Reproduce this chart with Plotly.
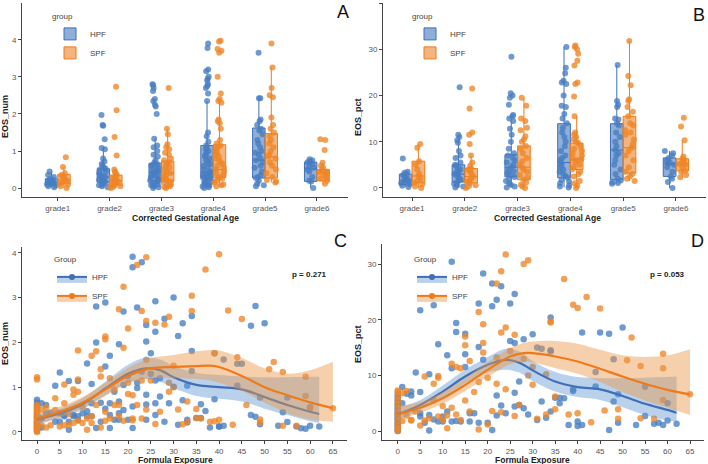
import plotly.graph_objects as go

# ---------------- data ----------------
grades = ["grade1", "grade2", "grade3", "grade4", "grade5", "grade6"]

# Panel A: EOS_num box statistics
A_HPF_q1 = [0.09, 0.16, 0.20, 0.28, 0.27, 0.18]
A_HPF_med = [0.15, 0.30, 0.42, 0.43, 0.76, 0.52]
A_HPF_q3 = [0.25, 0.52, 0.67, 1.15, 1.62, 0.70]
A_HPF_lo = [0.02, 0.02, 0.00, 0.00, 0.05, 0.00]
A_HPF_hi = [0.45, 1.08, 1.33, 2.35, 2.42, 0.78]
A_SPF_q1 = [0.12, 0.08, 0.18, 0.28, 0.27, 0.20]
A_SPF_med = [0.22, 0.20, 0.40, 0.50, 0.84, 0.42]
A_SPF_q3 = [0.37, 0.35, 0.73, 1.17, 1.47, 0.50]
A_SPF_lo = [0.00, 0.00, 0.00, 0.05, 0.15, 0.12]
A_SPF_hi = [0.57, 0.50, 1.60, 2.40, 3.25, 0.68]

A_HPF_pts = [
    [0.02, 0.05, 0.08, 0.1, 0.12, 0.13, 0.15, 0.16, 0.18, 0.2, 0.22, 0.25, 0.3, 0.35, 0.45],
    [0.02, 0.05, 0.08, 0.1, 0.12, 0.15, 0.18, 0.2, 0.22, 0.25, 0.28, 0.3, 0.32, 0.35, 0.4, 0.45,
     0.5, 0.52, 0.55, 0.6, 0.65, 0.72, 0.8, 1.05, 1.08, 1.32, 1.7, 1.68, 1.97],
    [0.0, 0.02, 0.05, 0.08, 0.1, 0.12, 0.15, 0.18, 0.2, 0.22, 0.25, 0.28, 0.3, 0.33, 0.36, 0.4,
     0.42, 0.45, 0.48, 0.5, 0.55, 0.6, 0.62, 0.65, 0.68, 0.75, 0.85, 0.9, 1.0, 1.1, 1.15, 1.33,
     2.0, 2.2, 2.25, 2.35, 2.4, 2.62, 2.7, 2.78, 2.8],
    [0.0, 0.02, 0.04, 0.06, 0.08, 0.1, 0.12, 0.15, 0.18, 0.2, 0.22, 0.25, 0.28, 0.3, 0.32, 0.35,
     0.38, 0.4, 0.42, 0.45, 0.5, 0.55, 0.6, 0.65, 0.7, 0.75, 0.8, 0.85, 0.9, 0.95, 1.0, 1.05,
     1.1, 1.15, 1.25, 1.4, 1.5, 2.35, 2.55, 2.7, 2.75, 2.8, 2.9, 2.95, 3.0, 3.15, 3.2, 3.78, 3.9],
    [0.05, 0.08, 0.12, 0.2, 0.27, 0.3, 0.35, 0.45, 0.55, 0.6, 0.7, 0.75, 0.8, 0.9, 0.95, 1.0,
     1.1, 1.2, 1.3, 1.45, 1.55, 1.6, 1.7, 1.8, 1.85, 2.42, 2.42, 3.65],
    [0.0, 0.18, 0.2, 0.3, 0.45, 0.5, 0.55, 0.6, 0.65, 0.7, 0.72, 0.75, 0.78],
]
A_SPF_pts = [
    [0.0, 0.05, 0.1, 0.12, 0.15, 0.2, 0.22, 0.25, 0.3, 0.35, 0.4, 0.57, 0.83],
    [0.0, 0.02, 0.05, 0.08, 0.1, 0.12, 0.15, 0.18, 0.2, 0.22, 0.25, 0.28, 0.3, 0.35, 0.4, 0.45,
     0.5, 0.88, 1.38, 2.1, 2.73],
    [0.0, 0.02, 0.05, 0.08, 0.1, 0.15, 0.18, 0.2, 0.25, 0.3, 0.35, 0.4, 0.45, 0.5, 0.55, 0.6,
     0.65, 0.7, 0.75, 0.8, 0.9, 0.95, 1.05, 1.1, 1.18, 1.45, 1.6, 2.7],
    [0.05, 0.08, 0.1, 0.15, 0.2, 0.25, 0.28, 0.3, 0.35, 0.4, 0.45, 0.5, 0.55, 0.6, 0.65, 0.7,
     0.75, 0.8, 0.85, 0.9, 0.95, 1.0, 1.05, 1.1, 1.15, 1.2, 1.3, 1.6, 1.75, 1.8, 1.85, 2.3,
     2.35, 2.4, 2.55, 3.0, 3.65, 3.7, 3.75, 3.95, 3.97],
    [0.15, 0.18, 0.22, 0.3, 0.4, 0.5, 0.6, 0.7, 0.8, 0.85, 0.9, 1.0, 1.1, 1.2, 1.3, 1.4, 1.5,
     1.6, 1.7, 1.9, 2.45, 2.5, 2.7, 3.25, 3.9],
    [0.12, 0.2, 0.25, 0.3, 0.35, 0.4, 0.42, 0.45, 0.5, 0.55, 0.6, 0.68, 1.03, 1.3, 1.32],
]

# Panel B: EOS_pct box statistics
B_HPF_q1 = [0.8, 1.3, 2.4, 2.2, 1.8, 2.5]
B_HPF_med = [1.7, 3.0, 4.5, 5.5, 8.2, 5.2]
B_HPF_q3 = [3.0, 5.0, 7.2, 13.9, 13.9, 6.5]
B_HPF_lo = [0.2, 0.1, 0.1, 0.1, 0.9, 0.0]
B_HPF_hi = [3.5, 10.3, 14.5, 30.5, 26.6, 8.0]
B_SPF_q1 = [1.1, 1.1, 1.8, 4.0, 3.2, 3.7]
B_SPF_med = [2.6, 2.5, 4.5, 6.2, 8.7, 5.2]
B_SPF_q3 = [5.8, 4.2, 9.1, 9.7, 15.5, 6.3]
B_SPF_lo = [0.0, 0.0, 0.0, 0.0, 1.5, 2.3]
B_SPF_hi = [9.5, 7.0, 19.5, 15.5, 31.8, 10.3]

B_HPF_pts = [
    [0.2, 0.5, 0.8, 1.0, 1.2, 1.5, 1.7, 2.0, 2.3, 2.8, 3.0, 3.3, 3.5, 6.4],
    [0.1, 0.3, 0.6, 0.9, 1.2, 1.5, 1.8, 2.2, 2.6, 3.0, 3.3, 3.6, 4.0, 4.4, 4.8, 5.0, 5.5, 6.5,
     7.0, 8.0, 9.8, 10.3, 11.0, 11.5, 21.8],
    [0.1, 0.3, 0.7, 1.0, 1.5, 2.0, 2.4, 2.8, 3.2, 3.6, 4.0, 4.5, 5.0, 5.5, 6.0, 6.5, 7.0, 7.5,
     8.5, 10.0, 11.5, 12.8, 14.5, 15.0, 15.5, 15.8, 18.0, 19.5, 20.0, 20.5, 28.4],
    [0.1, 0.3, 0.6, 1.0, 1.4, 1.8, 2.2, 2.6, 3.0, 3.5, 4.0, 4.5, 5.0, 5.5, 6.0, 6.5, 7.0, 8.0,
     9.0, 10.0, 11.0, 12.0, 13.0, 14.0, 15.0, 16.0, 17.5, 17.8, 20.0, 22.5, 22.8, 23.2, 24.8,
     26.0, 30.5],
    [0.9, 1.1, 1.3, 1.6, 2.0, 3.0, 4.0, 5.0, 6.0, 7.0, 7.5, 8.2, 9.0, 10.0, 11.0, 12.0, 13.5,
     14.0, 14.8, 15.0, 17.5, 18.0, 18.8, 26.6],
    [0.0, 1.3, 2.0, 2.5, 3.5, 4.5, 5.0, 5.2, 5.5, 6.0, 6.5, 7.0, 7.5, 8.0],
]
B_SPF_pts = [
    [0.0, 0.3, 0.8, 1.1, 1.5, 2.0, 2.6, 3.0, 4.0, 5.0, 5.8, 8.7, 9.5],
    [0.0, 0.3, 0.6, 1.0, 1.3, 1.6, 2.0, 2.5, 3.0, 3.5, 4.0, 4.2, 4.8, 5.5, 7.0, 9.5, 11.5,
     12.0, 17.2, 21.5],
    [0.0, 0.3, 0.7, 1.2, 1.8, 2.2, 2.8, 3.5, 4.0, 4.5, 5.0, 5.8, 6.5, 7.5, 8.5, 9.1, 10.0,
     10.5, 11.2, 12.5, 13.0, 14.5, 15.0, 17.8, 19.5],
    [0.0, 0.5, 1.0, 1.5, 2.5, 3.0, 3.5, 4.0, 4.5, 5.0, 5.5, 6.0, 6.2, 6.5, 7.0, 7.5, 8.0, 8.5,
     9.0, 9.7, 10.0, 10.5, 11.0, 11.5, 12.0, 15.5, 19.8, 22.5, 22.8, 26.5, 27.5, 29.0, 30.0,
     30.5, 30.8],
    [1.5, 2.0, 2.5, 3.0, 3.5, 4.5, 6.0, 7.0, 8.0, 8.7, 9.5, 10.5, 11.5, 12.0, 12.5, 13.5, 14.0,
     15.5, 16.5, 17.5, 18.8, 19.2, 22.2, 24.2, 31.8],
    [2.3, 2.8, 3.5, 3.7, 4.5, 5.0, 5.2, 5.5, 6.0, 6.3, 6.8, 10.3, 13.3, 15.2],
]

# Panel C: EOS_num vs formula exposure
C_HPF_x = [0, 0, 0, 0, 0, 0, 0, 0, 0, 0, 0, 0, 0, 0, 0, 0, 0, 0, 0, 0, 0, 0,
           1, 1, 1, 2, 2, 3, 4, 4, 5, 5, 5, 6, 6, 7, 7, 7, 8, 8, 9, 9, 9, 10, 11, 11, 11,
           12, 12, 12, 13, 13, 13, 14, 14, 15, 15, 15, 16, 16, 16, 16, 17, 17, 18, 18, 18,
           18, 19, 19, 19, 20, 20, 21, 21, 21, 21, 22, 22, 22, 23, 23, 24, 24, 24, 24, 24,
           25, 25, 26, 26, 26, 26, 26, 27, 27, 28, 28, 29, 30, 30, 31, 31, 32, 32, 33, 33,
           33, 34, 34, 34, 35, 36, 36, 37, 38, 39, 39, 40, 40, 41, 41, 44, 44, 45, 47, 47,
           48, 48, 49, 49, 50, 53, 54, 55, 55, 57, 58, 59, 60, 60, 62]
C_HPF_y = [0.02, 0.05, 0.08, 0.1, 0.12, 0.14, 0.17, 0.19, 0.22, 0.24, 0.27, 0.3, 0.32, 0.35,
           0.38, 0.41, 0.45, 0.5, 0.55, 0.6, 0.66, 0.72,
           0.64, 0.1, 0.3, 0.42, 0.6, 0.43, 0.23, 1.03, 1.33, 0.42, 0.23, 0.38, 0.35, 0.05,
           0.23, 1.14, 0.38, 0.35, 0.27, 1.14, 0.35, 0.42, 0.35, 0.46, 1.53, 0.64, 0.35, 1.07,
           0.09, 2.8, 2.0, 0.65, 0.23, 0.52, 2.89, 1.46, 0.09, 0.38, 1.7, 0.64, 0.27, 0.9,
           0.42, 0.68, 1.96, 0.27, 2.69, 0.49, 1.05, 0.27, 1.25, 0.09, 3.91, 3.68, 0.57, 0.98,
           2.78, 1.1, 3.79, 1.35, 0.83, 0.61, 0.27, 2.39, 2.02, 1.76, 1.3, 0.64, 0.38, 2.92,
           2.24, 1.15, 0.79, 1.2, 0.23, 2.53, 0.64, 1.01, 3.0, 0.16, 2.14, 0.71, 2.43, 0.27,
           1.03, 0.21, 2.59, 1.81, 1.36, 0.31, 0.62, 0.31, 0.47, 0.1, 1.76, 0.73, 0.12, 0.12,
           1.62, 0.14, 1.52, 1.03, 1.52, 2.37, 0.38, 2.81, 0.34, 0.77, 0.17, 2.43, 0.14, 0.44,
           0.77, 0.22, 0.12, 0.08, 0.07, 0.55, 0.14, 0.12]
C_SPF_x = [0, 0, 0, 0, 0, 0, 0, 0, 0, 0, 0, 0, 0, 0, 0, 0,
           1, 1, 2, 2, 3, 4, 4, 5, 6, 6, 6, 7, 7, 8, 8, 8, 9, 9, 9, 9, 10, 10, 11, 11, 12,
           12, 12, 13, 13, 14, 14, 14, 15, 15, 15, 15, 16, 16, 17, 17, 18, 18, 18, 19, 19,
           19, 20, 20, 20, 21, 21, 21, 22, 22, 23, 23, 23, 24, 24, 24, 24, 25, 26, 26, 27,
           28, 29, 29, 29, 30, 30, 31, 32, 33, 33, 34, 34, 35, 35, 36, 37, 38, 39, 39, 40,
           40, 42, 43, 44, 45, 46, 49, 49, 51, 52, 54, 54, 57, 59, 59, 60, 65]
C_SPF_y = [0.0, 0.03, 0.06, 0.1, 0.15, 0.2, 0.25, 0.3, 0.35, 0.4, 0.45, 0.5, 0.55, 0.6, 1.17,
           1.22,
           0.5, 0.15, 0.1, 0.55, 0.15, 0.49, 0.75, 0.12, 1.06, 0.64, 0.15, 0.15, 0.4, 0.95,
           0.2, 0.83, 1.82, 1.17, 0.9, 0.25, 0.2, 0.55, 0.05, 0.3, 1.7, 0.2, 0.35, 1.8, 0.6,
           1.4, 1.24, 0.1, 2.13, 2.07, 0.45, 0.25, 1.2, 0.3, 0.6, 0.95, 2.74, 0.6, 0.35, 3.24,
           1.88, 0.25, 2.31, 1.1, 0.85, 0.82, 0.26, 0.3, 3.73, 0.6, 2.7, 0.3, 1.15, 3.9, 2.48,
           1.61, 0.5, 1.15, 2.44, 0.18, 0.45, 2.4, 2.57, 0.9, 1.1, 1.48, 1.0, 0.5, 0.17, 0.68,
           0.23, 3.04, 2.7, 0.51, 0.31, 0.3, 3.63, 0.23, 1.76, 0.24, 3.97, 0.27, 2.71, 0.16,
           1.67, 2.52, 0.6, 0.28, 0.21, 1.4, 1.56, 1.34, 0.14, 0.14, 1.23, 0.8, 0.54, 0.53]

# Panel D: EOS_pct vs formula exposure
D_HPF_x = [0, 0, 0, 0, 0, 0, 0, 0, 0, 0, 0, 0, 0, 0, 0, 0, 0, 0,
           1, 1, 2, 3, 3, 4, 5, 5, 5, 5, 6, 7, 7, 7, 8, 8, 9, 9, 10, 10, 11, 11, 12, 12, 12,
           13, 13, 13, 14, 15, 15, 15, 16, 16, 17, 18, 18, 18, 19, 19, 20, 21, 21, 21, 22,
           22, 22, 23, 23, 25, 24, 25, 26, 26, 26, 26, 27, 27, 28, 28, 30, 29, 31, 32, 31,
           32, 33, 34, 34, 34, 34, 35, 36, 36, 37, 38, 39, 39, 40, 40, 41, 41, 44, 44, 45,
           47, 47, 48, 48, 49, 49, 50, 53, 55, 55, 57, 58, 59, 60, 60, 62]
D_HPF_y = [0.0, 0.3, 0.6, 1.0, 1.3, 1.6, 2.0, 2.3, 2.7, 3.0, 3.4, 3.8, 4.2, 4.6, 5.0, 5.5,
           6.0, 6.6,
           7.9, 5.0, 6.7, 7.1, 6.4, 10.5, 21.7, 3.2, 2.6, 7.0, 1.5, 2.9, 10.2, 0.1, 22.6, 2.1,
           15.6, 1.7, 2.6, 1.7, 13.6, 3.5, 30.4, 11.3, 1.7, 19.4, 17.8, 1.8, 1.7, 17.5, 13.8,
           11.5, 1.7, 3.2, 3.2, 22.9, 15.1, 1.5, 28.3, 12.8, 1.5, 26.5, 22.4, 0.2, 23.6, 2.8,
           6.4, 26.0, 4.6, 22.9, 3.2, 16.2, 24.6, 15.8, 6.9, 4.4, 8.9, 4.7, 16.5, 4.1, 17.4,
           3.0, 2.0, 5.3, 15.0, 14.8, 2.4, 20.4, 14.5, 14.3, 3.5, 6.0, 6.0, 5.0, 5.9, 1.1, 7.5,
           7.2, 1.7, 0.9, 17.7, 1.1, 10.6, 8.0, 17.7, 17.5, 0.2, 12.9, 5.3, 6.6, 1.5, 18.6,
           1.1, 7.95, 2.7, 1.3, 1.5, 1.1, 5.0, 1.9, 1.3]
D_SPF_x = [0, 0, 0, 0, 0, 0, 0, 0, 0, 0, 0, 0,
           1, 1, 2, 2, 3, 3, 4, 5, 6, 6, 7, 8, 8, 9, 9, 9, 10, 10, 11, 11, 12, 12, 13, 13,
           14, 14, 15, 15, 15, 16, 16, 17, 18, 18, 18, 19, 19, 19, 20, 20, 21, 22, 22, 22,
           23, 23, 23, 24, 24, 24, 25, 26, 26, 27, 28, 28, 29, 29, 30, 30, 31, 33, 33, 34,
           34, 35, 35, 37, 38, 39, 40, 40, 42, 43, 45, 46, 49, 49, 51, 52, 54, 54, 57, 59,
           59, 59, 65]
D_SPF_y = [0.0, 0.5, 1.0, 1.8, 2.5, 3.2, 4.0, 4.8, 5.5, 6.2, 7.0, 7.3,
           6.8, 1.8, 7.2, 2.8, 1.9, 2.0, 3.5, 1.0, 9.8, 1.9, 2.3, 8.5, 5.5, 9.9, 9.6, 2.6,
           2.0, 4.5, 0.5, 2.8, 12.1, 4.2, 11.5, 3.0, 11.3, 2.0, 15.4, 17.0, 5.5, 12.6, 3.5,
           7.0, 21.4, 8.8, 0.3, 19.2, 14.1, 15.8, 1.2, 9.6, 3.6, 26.5, 8.5, 13.2, 28.7, 17.7,
           3.4, 31.7, 18.6, 7.5, 14.4, 17.3, 2.7, 4.7, 30.0, 13.0, 30.7, 10.0, 8.3, 11.5, 2.2,
           10.2, 3.0, 19.7, 19.5, 6.2, 3.9, 27.3, 3.0, 22.7, 22.1, 3.2, 24.1, 1.6, 22.0, 3.7,
           3.9, 2.2, 12.7, 16.8, 11.7, 2.3, 2.2, 13.9, 11.3, 5.6, 6.6]

# Smoothed fits with confidence bands
C_HPF_gx = [0, 5, 10, 15, 20, 24, 27, 30, 35, 40, 45, 50, 55, 60, 62]
C_HPF_fit = [0.28, 0.41, 0.62, 0.97, 1.30, 1.42, 1.38, 1.22, 1.05, 1.00, 0.95, 0.78, 0.60, 0.45, 0.40]
C_HPF_lo = [0.18, 0.30, 0.50, 0.82, 1.10, 1.18, 1.12, 0.98, 0.80, 0.74, 0.68, 0.52, 0.38, 0.24, 0.20]
C_HPF_hi = [0.38, 0.52, 0.75, 1.12, 1.50, 1.66, 1.62, 1.48, 1.32, 1.27, 1.24, 1.22, 1.22, 1.23, 1.23]
C_SPF_gx = [0, 5, 10, 15, 20, 25, 30, 35, 38, 40, 45, 50, 55, 60, 65]
C_SPF_fit = [0.30, 0.45, 0.65, 0.95, 1.25, 1.42, 1.45, 1.47, 1.48, 1.45, 1.25, 1.00, 0.82, 0.66, 0.53]
C_SPF_lo = [0.18, 0.33, 0.53, 0.80, 1.08, 1.20, 1.20, 1.18, 1.15, 1.10, 0.92, 0.65, 0.42, 0.28, 0.23]
C_SPF_hi = [0.45, 0.57, 0.78, 1.10, 1.43, 1.65, 1.72, 1.80, 1.83, 1.82, 1.65, 1.42, 1.30, 1.38, 1.57]

D_HPF_gx = [0, 5, 10, 15, 20, 24, 27, 30, 35, 40, 45, 50, 55, 60, 62]
D_HPF_fit = [3.0, 4.7, 7.1, 9.8, 11.9, 12.8, 12.3, 10.9, 8.9, 7.9, 7.5, 6.3, 4.9, 3.8, 3.3]
D_HPF_lo = [2.0, 3.8, 6.0, 8.6, 10.5, 11.0, 10.5, 9.0, 7.1, 6.1, 5.6, 4.3, 2.9, 1.9, 1.7]
D_HPF_hi = [4.2, 5.6, 8.2, 11.0, 13.3, 14.8, 14.3, 12.6, 10.6, 9.7, 9.5, 9.5, 9.6, 9.7, 9.8]
D_SPF_gx = [0, 5, 10, 15, 20, 25, 28, 30, 35, 40, 45, 50, 55, 60, 65]
D_SPF_fit = [3.0, 4.2, 5.9, 8.3, 11.0, 13.4, 14.0, 14.0, 13.4, 12.5, 11.2, 9.8, 8.5, 7.4, 6.6]
D_SPF_lo = [2.0, 3.3, 4.9, 7.2, 9.7, 12.0, 12.4, 12.3, 11.3, 10.3, 8.8, 7.0, 5.5, 4.2, 2.9]
D_SPF_hi = [4.6, 5.2, 7.0, 9.5, 12.4, 14.9, 15.8, 16.1, 16.2, 15.7, 14.6, 13.6, 13.3, 13.6, 14.7]

p_values = ["p = 0.271", "p = 0.053"]

# ---------------- styles ----------------
FONT = "Liberation Sans, Arial, sans-serif"
BLUE_LINE = "#3F6FB6"
ORANGE_LINE = "#EE7B1B"
BLUE_PT = "rgba(70,125,195,0.78)"
ORANGE_PT = "rgba(238,133,38,0.78)"
BLUE_BOX = "rgba(74,124,192,0.62)"
ORANGE_BOX = "rgba(236,135,45,0.62)"
BLUE_BAND = "rgba(90,145,210,0.42)"
ORANGE_BAND = "rgba(236,150,70,0.45)"

fig = go.Figure()


def add_box_panel(xa, ya, legend, stats_h, stats_s, pts_h, pts_s):
    for name, st, pts, line_c, fill_c, pt_c in [
        ("HPF", stats_h, pts_h, BLUE_LINE, BLUE_BOX, BLUE_PT),
        ("SPF", stats_s, pts_s, ORANGE_LINE, ORANGE_BOX, ORANGE_PT),
    ]:
        q1, med, q3, lo, hi = st
        fig.add_trace(go.Box(
            x=grades, q1=q1, median=med, q3=q3, lowerfence=lo, upperfence=hi,
            name=name, offsetgroup=name, boxpoints=False, whiskerwidth=0,
            fillcolor=fill_c, line=dict(color=line_c, width=1),
            xaxis=xa, yaxis=ya, legend=legend, showlegend=True,
        ))
        xs = [g for g, vals in zip(grades, pts) for _ in vals]
        ys = [v for vals in pts for v in vals]
        fig.add_trace(go.Box(
            x=xs, y=ys, name=name, offsetgroup=name, boxpoints="all", jitter=0.85,
            pointpos=0, fillcolor="rgba(0,0,0,0)", line=dict(color="rgba(0,0,0,0)", width=0),
            marker=dict(color=pt_c, size=6), xaxis=xa, yaxis=ya, showlegend=False,
            hoveron="points",
        ))


add_box_panel("x", "y", "legend",
              (A_HPF_q1, A_HPF_med, A_HPF_q3, A_HPF_lo, A_HPF_hi),
              (A_SPF_q1, A_SPF_med, A_SPF_q3, A_SPF_lo, A_SPF_hi),
              A_HPF_pts, A_SPF_pts)
add_box_panel("x2", "y2", "legend2",
              (B_HPF_q1, B_HPF_med, B_HPF_q3, B_HPF_lo, B_HPF_hi),
              (B_SPF_q1, B_SPF_med, B_SPF_q3, B_SPF_lo, B_SPF_hi),
              B_HPF_pts, B_SPF_pts)


def add_smooth_panel(xa, ya, legend, hx, hy, sx, sy, hfit, sfit):
    fig.add_trace(go.Scatter(x=hx, y=hy, mode="markers", marker=dict(color=BLUE_PT, size=6.5),
                             xaxis=xa, yaxis=ya, showlegend=False, name="HPF"))
    fig.add_trace(go.Scatter(x=sx, y=sy, mode="markers", marker=dict(color=ORANGE_PT, size=6.5),
                             xaxis=xa, yaxis=ya, showlegend=False, name="SPF"))
    for name, (gx, fit, lo, hi), line_c, band_c in [
        ("HPF", hfit, BLUE_LINE, BLUE_BAND),
        ("SPF", sfit, ORANGE_LINE, ORANGE_BAND),
    ]:
        fig.add_trace(go.Scatter(x=gx, y=hi, mode="lines", line=dict(width=0, shape="spline"),
                                 xaxis=xa, yaxis=ya, showlegend=False, hoverinfo="skip"))
        fig.add_trace(go.Scatter(x=gx, y=lo, mode="lines", line=dict(width=0, shape="spline"),
                                 fill="tonexty", fillcolor=band_c,
                                 xaxis=xa, yaxis=ya, showlegend=False, hoverinfo="skip"))
        fig.add_trace(go.Scatter(x=gx, y=fit, mode="lines",
                                 line=dict(color=line_c, width=2.2, shape="spline"),
                                 xaxis=xa, yaxis=ya, showlegend=False, name=name))
    for name, line_c, band_c in [("HPF", BLUE_LINE, BLUE_BAND), ("SPF", ORANGE_LINE, ORANGE_BAND)]:
        fig.add_trace(go.Scatter(x=[None], y=[None], mode="lines+markers", name=name,
                                 fill="toself", fillcolor=band_c,
                                 line=dict(color=line_c, width=2), marker=dict(color=line_c, size=6),
                                 xaxis=xa, yaxis=ya, legend=legend, showlegend=True))


add_smooth_panel("x3", "y3", "legend3", C_HPF_x, C_HPF_y, C_SPF_x, C_SPF_y,
                 (C_HPF_gx, C_HPF_fit, C_HPF_lo, C_HPF_hi),
                 (C_SPF_gx, C_SPF_fit, C_SPF_lo, C_SPF_hi))
add_smooth_panel("x4", "y4", "legend4", D_HPF_x, D_HPF_y, D_SPF_x, D_SPF_y,
                 (D_HPF_gx, D_HPF_fit, D_HPF_lo, D_HPF_hi),
                 (D_SPF_gx, D_SPF_fit, D_SPF_lo, D_SPF_hi))

W, H = 708, 464


def px(v):
    return v / W


def py(v):
    return 1 - v / H


axis_common = dict(showline=True, linecolor="#444", linewidth=1, ticks="outside", ticklen=3,
                   tickcolor="#444", showgrid=False, zeroline=False,
                   tickfont=dict(family=FONT, size=8, color="#555"))

fig.update_layout(
    width=W, height=H, margin=dict(l=0, r=0, t=0, b=0),
    paper_bgcolor="white", plot_bgcolor="white",
    boxmode="group", boxgap=0.52, boxgroupgap=0,
    showlegend=True,
    font=dict(family=FONT, size=8, color="#444"),
    xaxis=dict(domain=[px(22), px(348)], anchor="y", range=[-0.69, 5.6],
               categoryorder="array", categoryarray=grades, **axis_common),
    yaxis=dict(domain=[py(197), py(3)], anchor="x", range=[-0.24, 4.99],
               tickvals=[0, 1, 2, 3, 4], **axis_common),
    xaxis2=dict(domain=[px(383), px(706)], anchor="y2", range=[-0.55, 5.57],
                categoryorder="array", categoryarray=grades, **axis_common),
    yaxis2=dict(domain=[py(197), py(3)], anchor="x2", range=[-1.95, 40],
                tickvals=[0, 10, 20, 30, 40], **axis_common),
    xaxis3=dict(domain=[px(22), px(347)], anchor="y3", range=[-3.3, 68.1],
                tickvals=list(range(0, 66, 5)), **axis_common),
    yaxis3=dict(domain=[py(440), py(247)], anchor="x3", range=[-0.18, 4.13],
                tickvals=[0, 1, 2, 3, 4], **axis_common),
    xaxis4=dict(domain=[px(382), px(704)], anchor="y4", range=[-3.5, 68.1],
                tickvals=list(range(0, 66, 5)), **axis_common),
    yaxis4=dict(domain=[py(440), py(244)], anchor="x4", range=[-1.6, 33.6],
                tickvals=[0, 10, 20, 30], **axis_common),
)

leg_common = dict(xanchor="left", yanchor="top", bgcolor="rgba(0,0,0,0)",
                  font=dict(family=FONT, size=8, color="#444"), itemwidth=30,
                  tracegroupgap=0, traceorder="normal")
fig.update_layout(
    legend=dict(x=px(50), y=py(9), title=dict(text="group", font=dict(size=8, color="#444")),
                **leg_common),
    legend2=dict(x=px(410), y=py(9), title=dict(text="group", font=dict(size=8, color="#444")),
                 **leg_common),
    legend3=dict(x=px(52), y=py(252), title=dict(text="Group", font=dict(size=8, color="#444")),
                 **leg_common),
    legend4=dict(x=px(412), y=py(252), title=dict(text="Group", font=dict(size=8, color="#444")),
                 **leg_common),
)

ann = []
title_font = dict(family=FONT, size=9, color="#222", weight="bold")
xtitle_font = dict(family=FONT, size=8.5, color="#222", weight="bold")
for text, x, y in [("Corrected Gestational Age", 185, 218), ("Corrected Gestational Age", 547, 218),
                   ("Formula Exposure", 175, 460), ("Formula Exposure", 532, 460)]:
    ann.append(dict(text=text, x=px(x), y=py(y), xref="paper", yref="paper", showarrow=False,
                    font=xtitle_font, xanchor="center", yanchor="middle"))
for text, x, y in [("EOS_num", 5, 117), ("EOS_pct", 358, 117), ("EOS_num", 5, 344), ("EOS_pct", 358, 344)]:
    ann.append(dict(text=text, x=px(x), y=py(y), xref="paper", yref="paper", showarrow=False,
                    font=title_font, textangle=-90, xanchor="center", yanchor="middle"))
for text, x, y in [("A", 343, 12), ("B", 699, 15), ("C", 340, 241), ("D", 697, 241)]:
    ann.append(dict(text=text, x=px(x), y=py(y), xref="paper", yref="paper", showarrow=False,
                    font=dict(family=FONT, size=18, color="#111"), xanchor="center", yanchor="middle"))
for text, x, y in [(p_values[0], 309, 274), (p_values[1], 667, 274)]:
    ann.append(dict(text=text, x=px(x), y=py(y), xref="paper", yref="paper", showarrow=False,
                    font=dict(family=FONT, size=8, color="#222", weight="bold"),
                    xanchor="center", yanchor="middle"))
fig.update_layout(annotations=ann)

fig.write_html("out.html")
